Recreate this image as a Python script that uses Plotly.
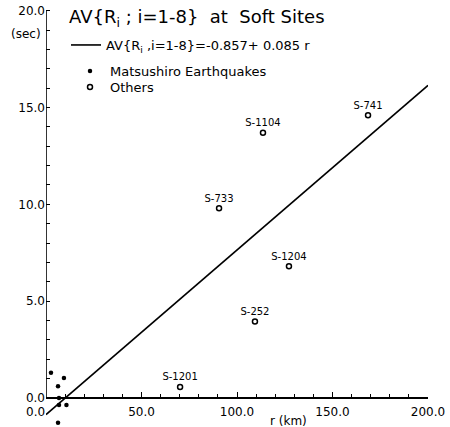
import plotly.graph_objects as go

# Regression line coefficients: AV = a + b * r
fit_a = -0.857
fit_b = 0.085
fit_r = [0.0, 200.0]

# Matsushiro earthquakes (r in km, AV in sec)
mats_r = [2.6, 9.4, 6.3, 6.8, 6.8, 10.7, 6.3]
mats_av = [1.3, 1.03, 0.6, 0.0, -0.36, -0.36, -1.28]

# Other events
oth_names = ["S-741", "S-1104", "S-733", "S-1204", "S-252", "S-1201"]
oth_r = [168.6, 113.6, 90.6, 127.2, 109.4, 70.2]
oth_av = [14.6, 13.7, 9.8, 6.8, 3.95, 0.56]

x_major = [0, 50, 100, 150, 200]
x_major_text = ["", "50.0", "100.0", "150.0", "200.0"]
y_major = [0, 5, 10, 15, 20]
y_major_text = ["0.0", "5.0", "10.0", "15.0", "20.0"]

FONT = "DejaVu Sans"
Y_MIN, Y_MAX = -1.5, 20.5
PLOT_TOP, PLOT_H = 1, 426


def paper_y(px):
    # vertical pixel from the top of the page -> paper fraction
    return 1 - (px - PLOT_TOP) / PLOT_H


fig = go.Figure()

fig.add_trace(go.Scatter(
    x=fit_r, y=[fit_a + fit_b * r for r in fit_r],
    mode="lines", line=dict(color="black", width=1.6),
    name="AV{R<sub>i</sub> ,i=1-8}=-0.857+ 0.085 r",
    legend="legend",
))
fig.add_trace(go.Scatter(
    x=mats_r, y=mats_av, mode="markers",
    marker=dict(symbol="circle", size=4.5, color="black"),
    name="Matsushiro Earthquakes", legend="legend2",
))
fig.add_trace(go.Scatter(
    x=oth_r, y=oth_av, mode="markers+text",
    marker=dict(symbol="circle-open", size=5, color="black", line=dict(width=1.5)),
    text=oth_names, textposition="top center",
    textfont=dict(family=FONT, size=10, color="black"),
    name="Others", legend="legend3",
))

# Left axis line from 0 to 20 sec
fig.add_shape(type="line", xref="x", yref="y", x0=0, x1=0, y0=0, y1=20,
              line=dict(color="black", width=1.6))

fig.add_annotation(x=0, y=0, xref="x", yref="y", text="0.0", showarrow=False,
                   xanchor="right", yanchor="top", xshift=1, yshift=-5,
                   font=dict(family=FONT, size=12, color="black"))
fig.add_annotation(x=0, y=18.8, xref="x", yref="y", text="(sec)", showarrow=False,
                   xanchor="right", xshift=-3,
                   font=dict(family=FONT, size=12, color="black"))
fig.add_annotation(x=126.7, y=-1.2, xref="x", yref="y", text="r (km)", showarrow=False,
                   font=dict(family=FONT, size=12, color="black"))
fig.add_annotation(x=0.055, y=paper_y(18), xref="paper", yref="paper",
                   text="AV{R<sub>i</sub> ; i=1-8}  at  Soft Sites",
                   showarrow=False, xanchor="left", yanchor="middle",
                   font=dict(family=FONT, size=18, color="black"))

leg_common = dict(xanchor="left", yanchor="middle", bgcolor="rgba(0,0,0,0)",
                  font=dict(family=FONT, size=13, color="black"))

fig.update_layout(
    width=450, height=427,
    margin=dict(l=46, r=22, t=PLOT_TOP, b=0),
    paper_bgcolor="white", plot_bgcolor="white",
    font=dict(family=FONT, size=12, color="black"),
    showlegend=True,
    legend=dict(x=20 / 382, y=paper_y(45), **leg_common),
    legend2=dict(x=24 / 382, y=paper_y(71), **leg_common),
    legend3=dict(x=24 / 382, y=paper_y(87), **leg_common),
    xaxis=dict(
        range=[0, 200], anchor="free", position=(0 - Y_MIN) / (Y_MAX - Y_MIN),
        showline=True, linecolor="black", linewidth=1.6, showgrid=False, zeroline=False,
        ticks="inside", ticklen=5, tickwidth=1.4, tickcolor="black",
        tickvals=x_major, ticktext=x_major_text, ticklabelstandoff=3,
        minor=dict(dtick=10, ticks="inside", ticklen=3, tickwidth=1.2, tickcolor="black"),
        tickfont=dict(family=FONT, size=12, color="black"),
    ),
    yaxis=dict(
        range=[Y_MIN, Y_MAX], showline=False, showgrid=False, zeroline=False,
        ticks="inside", ticklen=4, tickwidth=1.4, tickcolor="black",
        tickvals=y_major, ticktext=y_major_text,
        minor=dict(tickvals=list(range(0, 21)), ticks="inside", ticklen=4,
                   tickwidth=1.2, tickcolor="black"),
        tickfont=dict(family=FONT, size=12, color="black"),
    ),
)

fig.write_html("out.html")
